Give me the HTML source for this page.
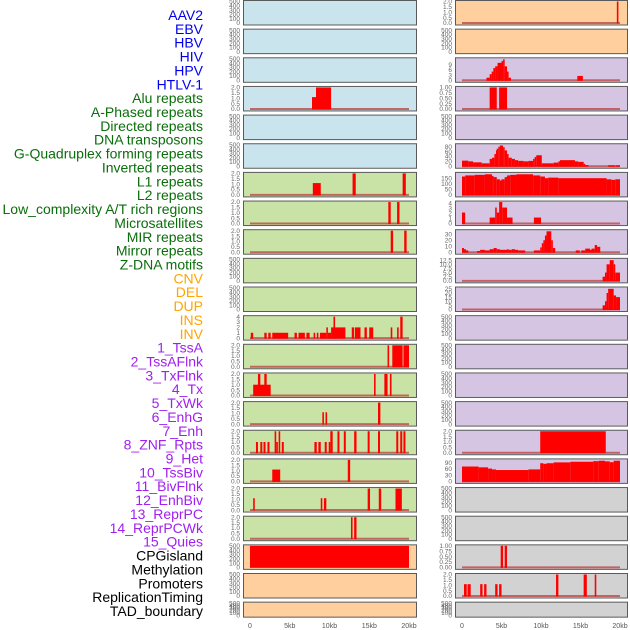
<!DOCTYPE html>
<html><head><meta charset="utf-8">
<style>
html,body{margin:0;padding:0;background:#fff;}
svg{display:block;font-family:"Liberation Sans",sans-serif;}
</style></head>
<body>
<svg id="chart" width="630" height="630" viewBox="0 0 630 630"></svg>
<script>
// ---- track labels ----
const labelTexts = ["AAV2","EBV","HBV","HIV","HPV","HTLV-1","Alu repeats","A-Phased repeats","Directed repeats","DNA transposons","G-Quadruplex forming repeats","Inverted repeats","L1 repeats","L2 repeats","Low_complexity A/T rich regions","Microsatellites","MIR repeats","Mirror repeats","Z-DNA motifs","CNV","DEL","DUP","INS","INV","1_TssA","2_TssAFlnk","3_TxFlnk","4_Tx","5_TxWk","6_EnhG","7_Enh","8_ZNF_Rpts","9_Het","10_TssBiv","11_BivFlnk","12_EnhBiv","13_ReprPC","14_ReprPCWk","15_Quies","CPGisland","Methylation","Promoters","ReplicationTiming","TAD_boundary"];
const labelGroups = [6,13,5,15,5]; // blue, green, orange, purple, black
const groupColors = ["#0000ee","#0a6e0a","#ffa500","#a020f0","#000000"];

// ---- x axis ----
const xTickVals = [0,5,10,15,20];
const xTickLabels = ["0","5kb","10kb","15kb","20kb"];

// ---- tick sets ----
const tEmpty = [0,100,200,300,400,500];
const tEmptyL = ["0","100","200","300","400","500"];
const t2 = [0,0.5,1,1.5,2];
const t2L = ["0.0","0.5","1.0","1.5","2.0"];
const t1 = [0,0.25,0.5,0.75,1];
const t1L = ["0.00","0.25","0.50","0.75","1.00"];
const t4 = [0,1,2,3,4];
const t4L = ["0","1","2","3","4"];

// ---- left column series [startKb, endKb, value] ----
const L_alu = [[7.8,8.3,1.1],[8.3,10.2,2]];
const L_l1 = [[7.9,8.9,1.1],[12.9,13.3,2],[19.2,19.6,2]];
const L_lowc = [[17.4,17.7,2],[18.5,18.8,2]];
const L_mir = [[17.7,18.0,2],[19.4,19.7,2]];
const L_ins = [[0.1,0.4,1],[1.8,2.1,1],[2.3,2.6,1],[2.8,4.8,1],[5.6,5.9,1],[6.1,6.9,1],[7.1,7.5,1],[8.0,8.2,1],[8.4,8.6,1],[8.8,9.6,1],[9.6,9.8,2],[9.8,10.2,1],[10.2,12.0,2],[10.5,10.7,4],[12.8,13.1,2],[13.2,13.9,2],[14.4,14.7,2],[15.0,15.5,2],[17.7,17.9,2],[18.5,18.7,2],[18.9,19.2,4]];
const L_tssa = [[17.3,17.5,2],[17.9,19.2,2],[19.3,20.0,2]];
const L_txflnk = [[0.4,2.6,1],[1.0,1.3,2],[1.8,2.1,2],[15.6,15.8,2],[16.9,17.3,2],[17.6,17.8,2]];
const L_txwk = [[9.1,9.3,1.1],[9.5,9.7,1.1],[16.1,16.4,2]];
const L_znf = [[0.75,1.0,1],[1.3,1.55,1],[1.7,1.95,1],[2.2,2.45,1],[3.1,3.3,2],[3.3,3.5,1],[3.6,3.8,2],[4.0,4.25,1],[8.1,8.4,1],[8.6,8.9,1],[9.4,9.65,1],[9.9,10.1,1],[10.1,10.4,2],[11.0,11.25,2],[11.8,12.05,2],[13.1,13.4,2],[14.8,15.05,2],[16.1,16.35,2],[18.4,18.65,2],[18.9,19.15,2],[19.3,19.55,2]];
const L_het = [[2.8,3.8,1.1],[12.3,12.6,2]];
const L_bivflnk = [[0.4,0.6,1.1],[8.9,9.1,1.1],[9.3,9.6,1.1],[14.8,15.1,2],[16.2,16.5,2],[18.3,19.1,2]];
const L_reprpc = [[12.7,12.9,2],[13.1,13.4,2]];
const L_cpg = [[0,20,500]];

// ---- right column series ----
const R_aav2 = [[19.6,19.8,2]];
const R_hiv = [[3.1,3.5,1.5],[3.5,3.76,3.5],[3.76,3.97,5],[3.97,4.2,7],[4.2,4.5,8],[4.5,5.0,10],[5.0,5.2,11],[5.2,5.4,12],[5.4,5.7,8],[5.7,5.9,5],[5.9,6.2,1.5],[14.6,15.3,2.5]];
const R_alu = [[3.5,4.4,1],[4.7,5.7,1]];
const R_gquad = [[0,0.8,23],[0.8,1.4,20],[1.4,2.5,16],[2.5,3.5,12],[3.5,3.8,30],[3.8,4.1,35],[4.1,4.3,50],[4.3,4.4,65],[4.4,4.6,72],[4.6,4.8,80],[4.8,5.2,85],[5.2,5.4,78],[5.4,5.7,65],[5.7,5.9,50],[5.9,6.3,35],[6.3,6.7,30],[6.7,7.1,25],[7.1,7.8,22],[7.8,8.4,20],[8.4,9.0,22],[9.0,9.2,30],[9.2,9.4,38],[9.4,10.1,45],[10.1,11.6,12],[11.6,12.2,15],[12.2,12.4,20],[12.4,14.3,25],[14.3,14.7,20],[14.7,15.4,18],[15.4,15.6,10],[15.6,16.0,5],[18.5,19.4,4],[19.5,20,4]];
const R_l1 = [[0,0.4,165],[0.4,1.6,175],[1.6,2.9,180],[2.9,3.8,185],[3.8,4.0,170],[4.0,4.4,160],[4.4,4.8,140],[4.8,5.0,130],[5.0,5.4,140],[5.4,5.7,160],[5.7,6.1,175],[6.1,6.9,180],[6.9,9.0,185],[9.0,9.9,175],[9.9,10.5,165],[10.5,10.9,150],[10.9,12.2,155],[12.2,18.3,150],[18.3,18.9,140],[18.9,19.4,135],[19.4,20,140]];
const R_lowc = [[0,0.4,2.2],[3.5,4.2,1.2],[4.2,4.4,3.2],[4.4,4.7,2.2],[4.7,5.1,4.3],[5.1,5.7,3.2],[5.7,6.4,1.2],[9.1,10.0,1.2]];
const R_mir = [[0,0.25,7],[0.25,0.5,5],[0.5,0.8,3],[1.9,2.3,2],[2.3,2.9,4],[2.9,3.5,3],[3.5,4.0,5],[4.0,4.4,7],[4.4,4.8,5],[4.8,5.7,4],[5.7,5.9,5],[5.9,6.3,4],[6.3,6.7,5],[6.7,7.1,4],[7.1,8.0,3],[9.1,9.9,3],[9.9,10.1,8],[10.1,10.3,15],[10.3,10.5,20],[10.5,10.7,28],[10.7,11.3,35],[11.3,11.5,20],[11.5,11.8,7],[14.4,14.9,3],[15.1,15.6,3],[15.6,16.2,6],[16.2,16.4,4],[16.4,16.8,6],[16.8,17.1,12],[17.1,17.5,9]];
const R_zdna = [[17.8,18.1,2.5],[18.1,18.3,5],[18.3,18.7,10],[18.7,19.2,12.5],[19.2,19.4,10],[19.4,20,5]];
const R_dup = [[17.8,18.1,5],[18.1,18.3,10],[18.3,18.5,20],[18.5,19.2,25],[19.2,19.5,17],[19.5,20,15]];
const R_znf = [[9.9,18.2,2]];
const R_het = [[0,2.1,72],[2.1,3.3,68],[3.3,3.8,62],[3.8,4.3,58],[4.3,8.4,55],[8.4,9.9,58],[9.9,10.3,88],[10.3,10.7,85],[10.7,11.6,88],[11.6,13.7,92],[13.7,16.6,95],[16.6,17.3,98],[17.3,18.1,100],[18.1,18.7,97],[18.7,19.2,93],[19.2,20,100]];
const R_cpg = [[4.9,5.2,1],[5.4,5.7,1]];
const R_prom = [[0.25,0.6,1.1],[0.7,1.1,1.1],[2.3,2.6,1.1],[2.8,3.1,1.1],[4.2,4.5,1.1],[4.7,5.0,1.1],[11.9,12.2,2],[15.4,15.8,2],[16.8,17.0,2]];

// ---- panel definitions (row, column, background, max, ticks, series) ----
const BLUE="#c9e4ec", PEACH="#ffd09d", PURP="#d5c5e3", GREEN="#c9e2a6", GREY="#d2d2d2";
const panels = [
 [0,0,BLUE,500,tEmpty,tEmptyL,null,"aav2"],[0,1,PEACH,2.0,t2,t2L,R_aav2,"aav2"],
 [1,0,BLUE,500,tEmpty,tEmptyL,null,"ebv"],[1,1,PEACH,500,tEmpty,tEmptyL,null,"ebv"],
 [2,0,BLUE,500,tEmpty,tEmptyL,null,"hiv"],[2,1,PURP,12.3,[0,3,6,9],["0","3","6","9"],R_hiv,"hiv"],
 [3,0,BLUE,2.0,t2,t2L,L_alu,"alu"],[3,1,PURP,1.0,t1,t1L,R_alu,"alu"],
 [4,0,BLUE,500,tEmpty,tEmptyL,null,"a-phased"],[4,1,PURP,500,tEmpty,tEmptyL,null,"a-phased"],
 [5,0,BLUE,500,tEmpty,tEmptyL,null,"g-quad"],[5,1,PURP,88,[0,20,40,60,80],["0","20","40","60","80"],R_gquad,"g-quad"],
 [6,0,GREEN,2.0,t2,t2L,L_l1,"l1"],[6,1,PURP,193,[0,50,100,150],["0","50","100","150"],R_l1,"l1"],
 [7,0,GREEN,2.0,t2,t2L,L_lowc,"low-complexity"],[7,1,PURP,4.3,t4,t4L,R_lowc,"low-complexity"],
 [8,0,GREEN,2.0,t2,t2L,L_mir,"mir"],[8,1,PURP,36,[0,10,20,30],["0","10","20","30"],R_mir,"mir"],
 [9,0,GREEN,500,tEmpty,tEmptyL,null,"z-dna"],[9,1,PURP,13,[0,2.5,5,7.5,10,12.5],["0.0","2.5","5.0","7.5","10.0","12.5"],R_zdna,"z-dna"],
 [10,0,GREEN,500,tEmpty,tEmptyL,null,"dup"],[10,1,PURP,26,[0,5,10,15,20,25],["0","5","10","15","20","25"],R_dup,"dup"],
 [11,0,GREEN,4.0,t4,t4L,L_ins,"ins"],[11,1,PURP,500,tEmpty,tEmptyL,null,"ins"],
 [12,0,GREEN,2.0,t2,t2L,L_tssa,"tssa"],[12,1,PURP,500,tEmpty,tEmptyL,null,"tssa"],
 [13,0,GREEN,2.0,t2,t2L,L_txflnk,"txflnk"],[13,1,PURP,500,tEmpty,tEmptyL,null,"txflnk"],
 [14,0,GREEN,2.0,t2,t2L,L_txwk,"txwk"],[14,1,PURP,500,tEmpty,tEmptyL,null,"txwk"],
 [15,0,GREEN,2.0,t2,t2L,L_znf,"znf"],[15,1,PURP,2.0,t2,t2L,R_znf,"znf"],
 [16,0,GREEN,2.0,t2,t2L,L_het,"het"],[16,1,PURP,104,[0,30,60,90],["0","30","60","90"],R_het,"het"],
 [17,0,GREEN,2.0,t2,t2L,L_bivflnk,"bivflnk"],[17,1,GREY,500,tEmpty,tEmptyL,null,"bivflnk"],
 [18,0,GREEN,2.0,t2,t2L,L_reprpc,"reprpc"],[18,1,GREY,500,tEmpty,tEmptyL,null,"reprpc"],
 [19,0,PEACH,500,tEmpty,tEmptyL,L_cpg,"cpg"],[19,1,GREY,1.0,t1,t1L,R_cpg,"cpg"],
 [20,0,PEACH,500,tEmpty,tEmptyL,null,"replication"],[20,1,GREY,2.0,t2,t2L,R_prom,"promoters"],
 [21,0,PEACH,500,tEmpty,tEmptyL,null,"tad"],[21,1,GREY,500,tEmpty,tEmptyL,null,"tad"]
];

const NS="http://www.w3.org/2000/svg";
const svg=document.getElementById("chart");
function mk(tag,attrs,parent){const e=document.createElementNS(NS,tag);for(const k in attrs)e.setAttribute(k,attrs[k]);(parent||svg).appendChild(e);return e;}

// layout
const colX=[[243,416],[455,627]];
const colZero=[250,462], colScale=[(409-250)/20,(620-462)/20];
function xScale(col,kb){return colZero[col]+kb*colScale[col];}
function rowTop(r){return r*28.65;}
function rowH(r){return r===21?15:24.5;}

// labels
let li=0;
labelGroups.forEach((n,g)=>{
  for(let k=0;k<n;k++){
    const t=mk("text",{x:203,y:(15+li*13.86+5).toFixed(1),"text-anchor":"end","font-size":"14",fill:groupColors[g]});
    
    
    t.textContent=labelTexts[li];li++;
  }
});

panels.forEach(p=>{
  const [r,c,bg,max,ticks,tickL,series,name]=p;
  const top=rowTop(r), h=rowH(r), x0=colX[c][0], x1=colX[c][1];
  const g=mk("g",{});
  
  
  const rect=mk("rect",{x:x0+0.5,y:top+0.5,width:x1-x0,height:h,fill:bg,stroke:"#5a5a5a","stroke-width":"1"},g);
  
  
  const y0=top+h-1.5, yTop=top+1.5;
  const yScale=v=>y0-(v/max)*(y0-yTop);
  // y ticks
  ticks.forEach((tv,i)=>{
    const t=mk("text",{x:x0-3,y:(yScale(tv)+2.2).toFixed(1),"text-anchor":"end","font-size":"6.5",fill:"#666"},g);
    
    
    t.textContent=tickL[i];
  });
  if(series){
    if(max<100 || series!==L_cpg){
      const bl=mk("line",{x1:xScale(c,0),x2:xScale(c,20),y1:y0,y2:y0,stroke:"#c04848","stroke-width":"2",opacity:"0.8"},g);
      
      
    }
    series.forEach(s=>{
      const xa=xScale(c,s[0]), xb=xScale(c,s[1]);
      const yv=yScale(s[2]);
      const b=mk("rect",{x:xa.toFixed(2),y:yv.toFixed(2),width:Math.max(1.5,xb-xa).toFixed(2),height:(y0-yv+0.5).toFixed(2),fill:"#ff0000"},g);
      
      
    });
  }
});

// x axis labels
[0,1].forEach(c=>{
  xTickVals.forEach((v,i)=>{
    const t=mk("text",{x:xScale(c,v).toFixed(1),y:628,"text-anchor":"middle","font-size":"7",fill:"#555"});
    
    
    t.textContent=xTickLabels[i];
  });
});
</script>
</body></html>
